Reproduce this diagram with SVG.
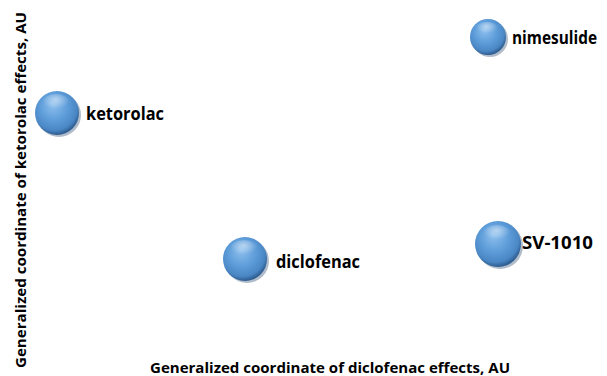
<svg xmlns="http://www.w3.org/2000/svg" width="607" height="376" viewBox="0 0 607 376">
<defs>
<radialGradient id="ball" cx="0.45" cy="0.4" r="0.6" fx="0.4" fy="0.3">
<stop offset="0" stop-color="#8fc0ee"/>
<stop offset="0.55" stop-color="#5b9bd8"/>
<stop offset="0.85" stop-color="#4a86c4"/>
<stop offset="1" stop-color="#2c5a8c"/>
</radialGradient>
<radialGradient id="hl" cx="0.5" cy="0.3" r="0.5">
<stop offset="0" stop-color="#ffffff" stop-opacity="0.45"/>
<stop offset="1" stop-color="#ffffff" stop-opacity="0"/>
</radialGradient>
</defs>
<style>
.lbl{font-family:"Open Sans","Liberation Sans",sans-serif;font-weight:bold;fill:#000;}
.n{font-size:17.5px;}
.ax{font-size:15px;}
.shadow{fill:#1e3f66;opacity:0.35;}
</style>
<rect width="607" height="376" fill="#fff"/>
<g id="ketorolac">
<circle class="shadow" cx="59" cy="115" r="22"/>
<circle cx="57" cy="113" r="22" fill="url(#ball)"/>
<ellipse cx="56" cy="103" rx="14" ry="9" fill="url(#hl)"/>
<text class="lbl n" x="86" y="120" textLength="78" lengthAdjust="spacingAndGlyphs">ketorolac</text>
</g>
<g id="nimesulide">
<circle class="shadow" cx="490" cy="39" r="18"/>
<circle cx="488" cy="37" r="18" fill="url(#ball)"/>
<ellipse cx="487" cy="29" rx="11" ry="7" fill="url(#hl)"/>
<text class="lbl" style="font-size:17px" x="512" y="44" textLength="85" lengthAdjust="spacingAndGlyphs">nimesulide</text>
</g>
<g id="diclofenac">
<circle class="shadow" cx="247" cy="261" r="22"/>
<circle cx="245" cy="259" r="22" fill="url(#ball)"/>
<ellipse cx="244" cy="249" rx="14" ry="9" fill="url(#hl)"/>
<text class="lbl n" x="276" y="268" textLength="84" lengthAdjust="spacingAndGlyphs">diclofenac</text>
</g>
<g id="sv1010">
<circle class="shadow" cx="500" cy="246" r="23"/>
<circle cx="498" cy="244" r="23" fill="url(#ball)"/>
<ellipse cx="497" cy="234" rx="14" ry="9" fill="url(#hl)"/>
<text class="lbl n" x="522" y="249" textLength="71" lengthAdjust="spacingAndGlyphs">SV-1010</text>
</g>
<g id="axes">
<text class="lbl ax" x="330" y="373" text-anchor="middle" textLength="360" lengthAdjust="spacingAndGlyphs">Generalized coordinate of diclofenac effects, AU</text>
<text class="lbl ax" transform="translate(26,190) rotate(-90)" x="0" y="0" text-anchor="middle" textLength="356" lengthAdjust="spacingAndGlyphs">Generalized coordinate of ketorolac effects, AU</text>
</g>
<g id="connectors"></g>
</svg>
